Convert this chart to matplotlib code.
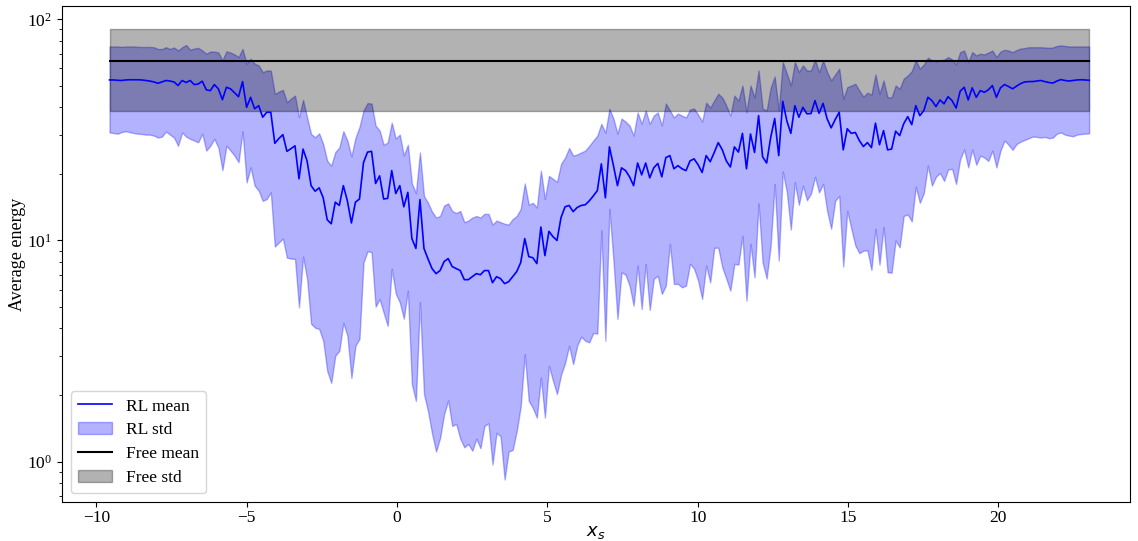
import numpy as np
import matplotlib.pyplot as plt

plt.rcParams['font.family'] = ['Liberation Serif', 'DejaVu Serif']
plt.rcParams['font.size'] = 12.5

# starting position grid (evenly spaced)
x_start, x_end = -9.56, 23.02

rl_mean = [
    53.2, 53.2, 53.0, 52.9, 53.2, 53.3, 53.3, 53.3, 53.2, 52.9,
    52.6, 52.1, 51.4, 52.1, 52.9, 52.6, 52.1, 50.2, 52.9, 51.8,
    52.9, 50.7, 51.0, 52.5, 48.0, 47.6, 50.7, 48.5, 43.3, 49.3,
    48.5, 46.6, 44.7, 52.3, 40.0, 44.4, 39.4, 40.7, 36.1, 38.0,
    38.0, 27.5, 28.9, 30.1, 25.3, 26.0, 26.8, 19.0, 25.9, 22.9,
    17.7, 16.7, 17.3, 15.6, 12.4, 11.9, 14.9, 14.4, 17.7, 15.1,
    12.0, 14.9, 15.4, 22.5, 25.1, 25.3, 18.1, 19.6, 15.4, 15.5,
    20.7, 16.3, 17.7, 14.2, 16.5, 10.2, 9.2, 15.3, 9.2, 8.25,
    7.46, 7.08, 7.31, 8.03, 8.28, 7.62, 7.46, 7.31, 6.65, 6.65,
    6.86, 7.08, 7.00, 7.31, 7.31, 6.44, 6.86, 6.72, 6.38, 6.51,
    6.86, 7.23, 7.95, 10.2, 8.45, 8.36, 7.86, 11.5, 8.54, 11.0,
    10.4, 10.0, 12.7, 14.2, 14.4, 13.5, 14.1, 14.4, 14.5, 15.1,
    15.9, 16.8, 22.2, 15.6, 26.5, 21.8, 17.7, 21.3, 20.7, 19.4,
    17.7, 22.4, 19.8, 22.4, 19.2, 21.3, 22.3, 19.4, 23.7, 24.2,
    21.1, 21.8, 21.1, 20.7, 22.9, 23.4, 22.0, 20.3, 24.2, 22.7,
    25.0, 27.7, 25.7, 22.9, 21.5, 26.5, 25.1, 30.5, 21.1, 30.3,
    25.0, 36.7, 23.9, 22.4, 29.2, 35.6, 24.2, 42.6, 34.8, 30.5,
    40.7, 36.1, 40.0, 37.4, 37.5, 42.9, 37.6, 41.7, 35.5, 32.3,
    35.2, 38.0, 25.7, 32.0, 30.5, 30.8, 28.3, 26.6, 27.7, 26.3,
    33.9, 27.1, 31.4, 25.7, 25.9, 31.2, 29.8, 33.7, 36.3, 33.4,
    40.7, 36.7, 38.7, 44.4, 42.9, 40.3, 43.2, 41.5, 44.7, 42.9,
    39.7, 47.3, 49.3, 43.2, 49.0, 44.4, 47.6, 46.8, 48.0, 50.2,
    44.4, 49.0, 50.7, 49.7, 48.5, 49.9, 51.2, 52.1, 52.3, 52.3,
    52.6, 52.9, 52.3, 51.8, 51.5, 52.6, 53.4, 52.9, 52.6, 52.9,
    53.2, 53.3, 53.2, 53.0,
]

# mean + std
rl_hi = [
    75.4, 75.4, 75.4, 75.1, 75.4, 75.4, 75.4, 75.1, 75.0, 75.0,
    75.0, 74.8, 73.4, 73.4, 74.8, 73.5, 74.6, 72.3, 74.8, 76.6,
    72.8, 73.8, 74.3, 72.3, 69.9, 71.5, 71.5, 70.8, 65.2, 71.7,
    70.8, 69.4, 67.5, 73.5, 63.0, 66.4, 63.0, 61.9, 57.7, 58.7,
    58.7, 46.0, 47.1, 48.0, 42.2, 43.8, 45.2, 36.1, 43.2, 36.1,
    30.3, 29.3, 30.5, 27.3, 22.9, 21.8, 25.1, 26.3, 31.2, 28.3,
    24.0, 29.1, 32.6, 38.7, 41.8, 41.6, 33.1, 31.4, 27.1, 27.7,
    34.1, 28.9, 30.1, 24.2, 27.1, 18.1, 16.4, 25.0, 15.9, 14.8,
    13.5, 12.7, 12.9, 14.4, 14.7, 13.6, 13.3, 13.6, 12.1, 12.3,
    12.7, 12.9, 12.7, 13.2, 13.2, 11.8, 12.3, 12.1, 11.9, 11.8,
    12.5, 12.9, 13.9, 18.1, 14.5, 14.8, 14.1, 20.7, 15.4, 19.6,
    19.0, 18.4, 22.2, 23.7, 26.2, 24.2, 24.5, 25.0, 25.5, 26.8,
    28.3, 29.8, 33.7, 30.7, 39.4, 35.6, 30.4, 35.6, 34.5, 33.1,
    29.8, 37.9, 33.7, 38.7, 33.7, 36.7, 37.9, 33.1, 41.6, 38.7,
    36.0, 37.5, 36.7, 36.0, 39.1, 39.5, 37.1, 34.5, 42.0, 39.9,
    42.9, 46.1, 44.3, 40.7, 36.7, 45.2, 42.9, 50.2, 38.0, 50.2,
    44.3, 58.7, 39.5, 38.7, 49.1, 55.1, 38.7, 64.1, 56.9, 50.2,
    64.1, 57.7, 61.9, 58.7, 58.7, 65.7, 57.7, 65.2, 57.7, 52.9,
    56.3, 59.8, 43.7, 49.3, 50.2, 51.1, 47.6, 44.7, 46.6, 45.6,
    56.3, 46.0, 52.9, 44.4, 44.4, 50.2, 48.5, 53.9, 55.7, 58.3,
    65.2, 59.8, 62.5, 67.1, 65.2, 64.5, 65.2, 65.7, 67.5, 65.9,
    62.5, 71.1, 72.3, 64.1, 71.1, 68.7, 69.9, 69.4, 70.8, 72.3,
    67.5, 71.5, 72.8, 72.3, 71.1, 72.6, 73.8, 74.1, 74.8, 74.8,
    74.8, 74.8, 74.6, 74.3, 74.6, 75.8, 76.2, 75.8, 75.4, 75.4,
    75.4, 75.4, 75.4, 75.4,
]

# mean - std
rl_lo = [
    30.8, 30.6, 30.4, 30.9, 31.2, 30.9, 30.6, 30.4, 30.3, 30.1,
    30.1, 29.8, 29.2, 29.5, 31.1, 30.1, 29.2, 26.8, 30.8, 29.5,
    28.8, 28.3, 27.8, 30.4, 25.5, 26.8, 28.8, 26.3, 20.8, 26.8,
    25.5, 24.2, 22.6, 31.2, 18.3, 21.4, 17.7, 16.8, 15.1, 15.4,
    16.5, 9.39, 9.79, 10.2, 8.36, 8.28, 8.25, 4.98, 8.45, 6.72,
    4.20, 4.03, 3.98, 3.52, 2.57, 2.27, 3.01, 3.17, 4.24, 3.71,
    2.39, 3.34, 3.59, 7.95, 8.94, 8.85, 5.02, 5.43, 4.71, 4.11,
    7.44, 5.75, 5.25, 4.43, 5.93, 2.24, 1.88, 5.25, 2.02, 1.69,
    1.34, 1.11, 1.28, 1.64, 1.89, 1.45, 1.48, 1.27, 1.16, 1.20,
    1.12, 1.27, 1.15, 1.45, 1.49, 0.97, 1.35, 1.30, 0.83, 1.11,
    1.13, 1.37, 1.78, 3.06, 1.88, 1.75, 1.58, 2.40, 1.58, 2.71,
    2.32, 2.02, 2.47, 2.79, 3.34, 2.76, 3.34, 3.67, 3.52, 3.46,
    3.82, 3.79, 11.1, 3.52, 13.9, 8.11, 4.42, 7.18, 7.00, 6.25,
    5.07, 7.70, 4.90, 7.83, 4.85, 6.70, 6.93, 5.73, 6.25, 9.66,
    6.36, 6.36, 6.14, 6.25, 7.84, 7.46, 6.58, 5.44, 7.70, 6.46,
    9.27, 9.27, 7.56, 6.72, 5.93, 7.84, 7.78, 10.5, 5.34, 9.66,
    6.81, 14.7, 7.95, 6.72, 9.49, 18.0, 8.11, 20.5, 16.6, 11.2,
    18.3, 14.5, 17.7, 15.2, 16.3, 19.4, 16.5, 18.0, 13.6, 11.3,
    15.1, 15.9, 7.62, 13.6, 11.3, 9.49, 8.76, 9.00, 9.00, 7.36,
    11.3, 7.78, 11.5, 7.18, 7.15, 10.0, 9.31, 12.9, 13.1, 12.2,
    17.5, 14.8, 16.4, 21.8, 17.7, 19.4, 20.2, 18.6, 20.9, 21.1,
    18.0, 23.3, 25.8, 21.4, 25.8, 22.0, 24.2, 23.7, 22.9, 25.5,
    21.4, 25.5, 28.3, 27.1, 25.7, 27.3, 28.0, 28.5, 29.0, 29.5,
    29.4, 29.2, 29.4, 29.0, 29.2, 30.4, 30.8, 30.1, 29.8, 29.6,
    30.1, 30.3, 30.4, 30.5,
]

free_mean = 64.7
free_std = 26.2

x = np.linspace(x_start, x_end, len(rl_mean))
free_line = np.full_like(x, free_mean)

fig, ax = plt.subplots(figsize=(11.38, 5.41), dpi=100)

ax.plot(x, rl_mean, color='blue', lw=1.2, label='RL mean')
ax.fill_between(x, rl_lo, rl_hi, color='blue', alpha=0.3, label='RL std')
ax.plot(x, free_line, color='black', lw=1.5, label='Free mean')
ax.fill_between(x, free_line - free_std, free_line + free_std,
                color='black', alpha=0.3, label='Free std')

ax.set_yscale('log')
ax.set_xlim(-11.14, 24.38)
ax.tick_params(axis='x', pad=2.5)
ax.set_xlabel('$x_s$', fontsize=13, labelpad=-2)
ax.set_ylabel('Average energy', fontsize=13, labelpad=1)
ax.legend(loc='lower left', fontsize=12.5, labelspacing=0.45)

fig.subplots_adjust(left=0.0545, right=0.993, top=0.989, bottom=0.072)
fig.savefig('out.png')
